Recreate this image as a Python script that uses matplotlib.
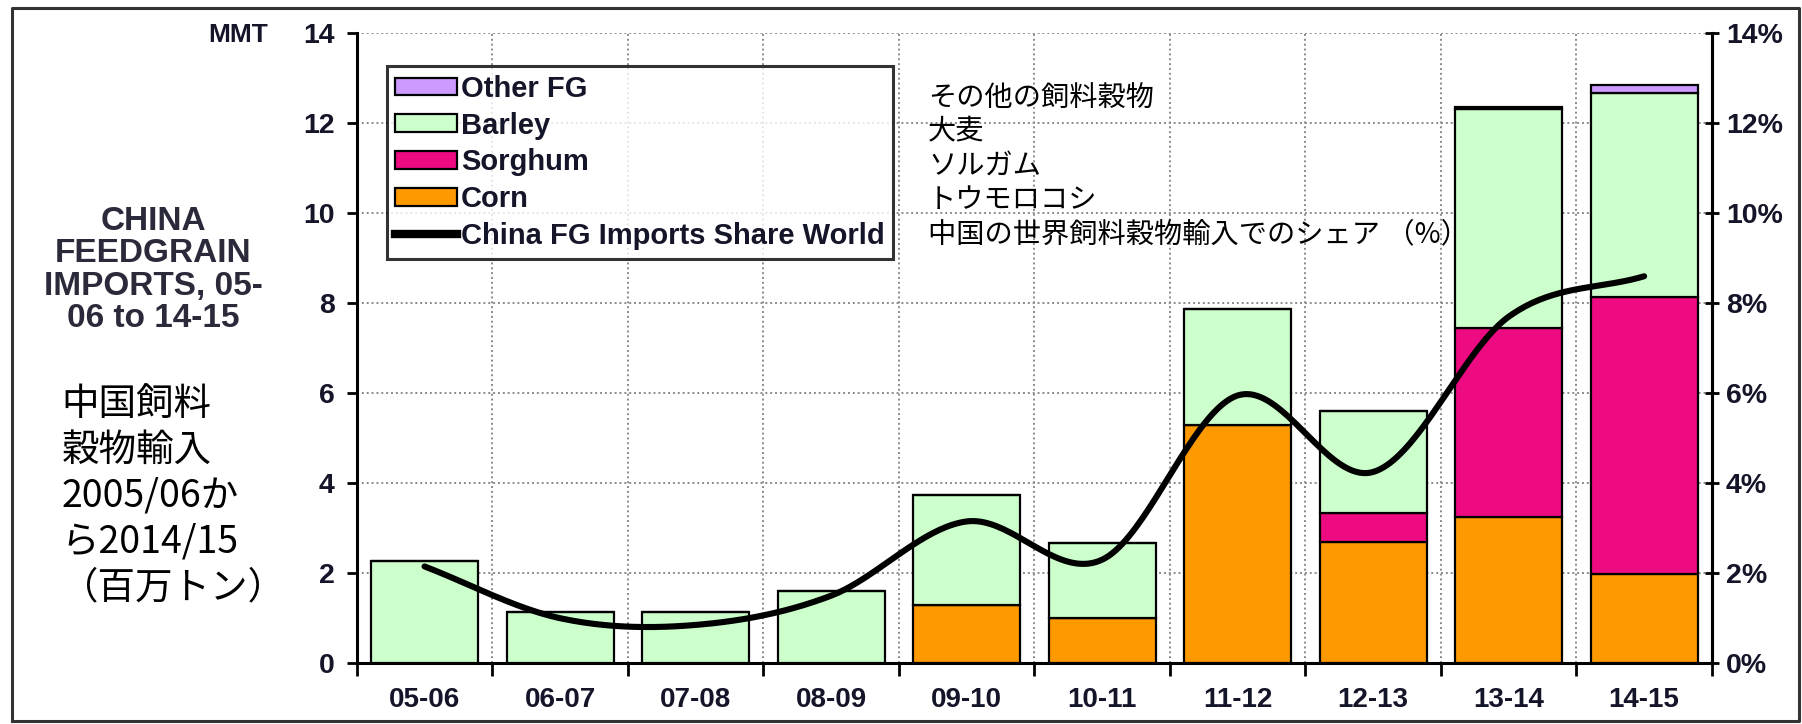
import numpy as np
import matplotlib.pyplot as plt
from matplotlib.lines import Line2D
from matplotlib.patches import Patch

# China feedgrain imports by marketing year (million metric tons)
seasons = ["05-06", "06-07", "07-08", "08-09", "09-10",
           "10-11", "11-12", "12-13", "13-14", "14-15"]
corn = [0.0, 0.0, 0.0, 0.0, 1.3, 1.0, 5.3, 2.7, 3.25, 1.98]
sorghum = [0.0, 0.0, 0.0, 0.0, 0.0, 0.0, 0.0, 0.63, 4.2, 6.17]
barley = [2.27, 1.13, 1.13, 1.6, 2.43, 1.67, 2.57, 2.28, 4.87, 4.52]
other_fg = [0.0, 0.0, 0.0, 0.0, 0.0, 0.0, 0.0, 0.0, 0.05, 0.18]
# China share of world feedgrain imports (%)
world_share = [2.15, 1.0, 0.85, 1.5, 3.15, 2.3, 5.95, 4.25, 7.7, 8.6]

C_CORN = "#FF9900"
C_SORGHUM = "#EE0A80"
C_BARLEY = "#CCFFCC"
C_OTHER = "#CC99FF"
TXT = "#15152a"
LAT = "Liberation Sans"
JP = ["Noto Sans CJK JP", "DejaVu Sans"]


def smooth(y, n=40):
    # cardinal spline through the points, like a spreadsheet "smoothed line"
    y = np.asarray(y, float)
    m = np.zeros_like(y)
    m[1:-1] = (y[2:] - y[:-2]) / 2
    m[0] = y[1] - y[0]
    m[-1] = y[-1] - y[-2]
    xs, ys = [], []
    for i in range(len(y) - 1):
        t = np.linspace(0, 1, n, endpoint=False)
        h00 = 2 * t**3 - 3 * t**2 + 1
        h10 = t**3 - 2 * t**2 + t
        h01 = -2 * t**3 + 3 * t**2
        h11 = t**3 - t**2
        xs.append(i + t)
        ys.append(h00 * y[i] + h10 * m[i] + h01 * y[i + 1] + h11 * m[i + 1])
    xs.append([len(y) - 1])
    ys.append([y[-1]])
    return np.concatenate(xs), np.concatenate(ys)


fig = plt.figure(figsize=(18.02, 7.24), dpi=100)
ax = fig.add_axes([0.198, 0.084, 0.752, 0.870])

x = np.arange(len(seasons))
w = 0.79
bar_kw = dict(width=w, edgecolor="black", linewidth=1.6, zorder=3)
b1 = np.array(corn)
b2 = b1 + np.array(sorghum)
b3 = b2 + np.array(barley)
ax.bar(x, corn, color=C_CORN, **bar_kw)
ax.bar(x, sorghum, bottom=b1, color=C_SORGHUM, **bar_kw)
ax.bar(x, barley, bottom=b2, color=C_BARLEY, **bar_kw)
ax.bar(x, other_fg, bottom=b3, color=C_OTHER, **bar_kw)

ax.set_xlim(-0.5, len(seasons) - 0.5)
ax.set_ylim(0, 14)
ax.set_yticks(np.arange(0, 15, 2))
ax.set_xticks(np.arange(-0.5, len(seasons), 1.0))
ax.set_xticklabels([])
ax.set_xticks(x, minor=True)
ax.set_xticklabels(seasons, minor=True)

grid_kw = dict(color="#8a8a8a", linestyle=(0, (1, 1.5)), linewidth=1.4, zorder=1)
for v in np.arange(2, 15, 2):
    ax.axhline(v, **grid_kw)
for v in np.arange(0.5, len(seasons) - 0.5, 1.0):
    ax.axvline(v, **grid_kw)

ax.spines["top"].set_visible(False)
for s in ["left", "bottom", "right"]:
    ax.spines[s].set_linewidth(2.2)
ax.tick_params(axis="y", which="major", direction="out", length=7, width=2,
               pad=9, labelsize=20.5, labelcolor=TXT)
ax.tick_params(axis="x", which="major", direction="out", length=9, width=2)
ax.tick_params(axis="x", which="minor", length=0, pad=17, labelsize=20,
               labelcolor=TXT)
for lab in ax.get_yticklabels() + ax.get_xticklabels(minor=True):
    lab.set_fontfamily(LAT)
    lab.set_fontweight("bold")

ax2 = ax.twinx()
ax2.set_ylim(0, 14)
ax2.set_yticks(np.arange(0, 15, 2))
ax2.set_yticklabels([f"{v}%" for v in range(0, 15, 2)])
ax2.spines["top"].set_visible(False)
ax2.spines["right"].set_linewidth(2.2)
ax2.tick_params(axis="y", direction="inout", length=10, width=2, pad=5,
                labelsize=20.5, labelcolor=TXT)
for lab in ax2.get_yticklabels():
    lab.set_fontfamily(LAT)
    lab.set_fontweight("bold")

sx, sy = smooth(world_share)
ax2.plot(sx, sy, color="black", linewidth=4.4, solid_capstyle="round",
         zorder=5)

handles = [
    Patch(facecolor=C_OTHER, edgecolor="black", linewidth=1.6),
    Patch(facecolor=C_BARLEY, edgecolor="black", linewidth=1.6),
    Patch(facecolor=C_SORGHUM, edgecolor="black", linewidth=1.6),
    Patch(facecolor=C_CORN, edgecolor="black", linewidth=1.6),
    Line2D([], [], color="black", linewidth=6),
]
labels = ["Other FG", "Barley", "Sorghum", "Corn", "China FG Imports Share World"]
leg = ax2.legend(handles, labels, loc="upper left",
                 bbox_to_anchor=(0.022, 0.948), frameon=True, fancybox=False,
                 borderpad=0.3, labelspacing=0.3, handlelength=2.1,
                 handleheight=0.55, handletextpad=0.15, borderaxespad=0,
                 prop=dict(family=LAT, weight="bold", size=21))
leg.get_frame().set_edgecolor("black")
leg.get_frame().set_linewidth(2.2)
for t in leg.get_texts():
    t.set_color(TXT)

fig.text(0.132, 0.952, "MMT", ha="center", va="center", fontsize=19,
         fontweight="bold", family=LAT, color=TXT)
fig.text(0.085, 0.627, "CHINA\nFEEDGRAIN\nIMPORTS, 05-\n06 to 14-15",
         ha="center", va="center", fontsize=24, fontweight="bold",
         family=LAT, color="#2a2a3a", linespacing=1.05)
fig.text(0.034, 0.315, "中国飼料\n穀物輸入\n2005/06か\nら2014/15\n（百万トン）",
         ha="left", va="center", fontsize=27, family=JP, color="black",
         linespacing=1.23)
fig.text(0.515, 0.771,
         "その他の飼料穀物\n大麦\nソルガム\nトウモロコシ\n中国の世界飼料穀物輸入でのシェア （%）",
         ha="left", va="center", fontsize=20.3, family=JP, color="black",
         linespacing=1.18)

# outer frame
fx0, fx1, fy0, fy1 = 12 / 1802, 1799 / 1802, 3 / 724, 716 / 724
fig.add_artist(Line2D([fx0, fx1, fx1, fx0, fx0], [fy0, fy0, fy1, fy1, fy0],
                      color="#333333", linewidth=2.2))

fig.savefig("out.png", dpi=100)
